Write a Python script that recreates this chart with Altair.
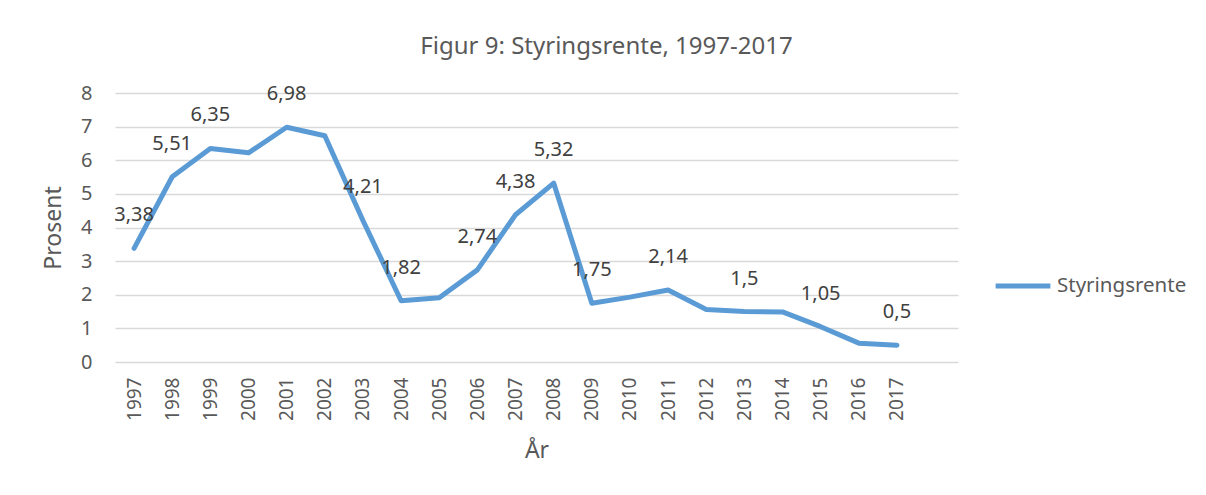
import altair as alt
import pandas as pd

years = list(range(1997, 2018))
rates = [3.38, 5.51, 6.35, 6.22, 6.98, 6.73, 4.21, 1.82, 1.91, 2.74, 4.38, 5.32,
         1.75, 1.93, 2.14, 1.56, 1.50, 1.49, 1.05, 0.56, 0.50]
labelled_years = [1997, 1998, 1999, 2001, 2003, 2004, 2006, 2007, 2008, 2009,
                  2011, 2013, 2015, 2017]
y_ticks = [0, 1, 2, 3, 4, 5, 6, 7, 8]
series_name = "Styringsrente"

df = pd.DataFrame({
    "År": years,
    "Prosent": rates,
    "serie": [series_name] * len(years),
    "label": [f"{v:g}".replace(".", ",") if y in labelled_years else "" for y, v in zip(years, rates)],
})

FONT = "Noto Sans"
BLUE = "#5b9bd5"

x = alt.X("År:Q",
          scale=alt.Scale(domain=[1996.5, 2018.6], nice=False, zero=False),
          axis=alt.Axis(values=years, format="d", labelAngle=-90, labelAlign="right",
                        labelBaseline="middle", grid=False, domain=False, ticks=False,
                        labelPadding=15, labelFontSize=19, labelColor="#595959",
                        title="År", titleFontSize=23, titleFontWeight="normal",
                        titleColor="#595959", titlePadding=19, labelFont=FONT, titleFont=FONT,
                        labelOverlap=False))
y = alt.Y("Prosent:Q",
          scale=alt.Scale(domain=[0, 8], nice=False),
          axis=alt.Axis(values=y_ticks, grid=True, gridColor="#d9d9d9", gridWidth=1.3,
                        domain=False, ticks=False, labelPadding=23, labelFontSize=20,
                        labelColor="#595959", title="Prosent", titleFontSize=23,
                        titleFontWeight="normal", titleColor="#595959", titlePadding=15,
                        labelFont=FONT, titleFont=FONT, labelOverlap=False))

line = alt.Chart(df).mark_line(strokeWidth=5, strokeCap="round", strokeJoin="round").encode(
    x=x, y=y,
    color=alt.Color("serie:N", scale=alt.Scale(range=[BLUE]),
                    legend=alt.Legend(title=None, orient="none", legendX=878, legendY=163,
                                      symbolType="stroke", symbolSize=3000, symbolStrokeWidth=5,
                                      labelFontSize=20.5, labelColor="#595959", labelFont=FONT,
                                      labelOffset=4)),
)

labels = alt.Chart(df).mark_text(fontSize=20, color="#404040", font=FONT, dy=-33,
                                 baseline="middle", align="center").encode(
    x=x, y=y, text="label:N")

chart = alt.layer(line, labels).properties(
    width=843, height=269,
    title=alt.TitleParams("Figur 9: Styringsrente, 1997-2017", fontSize=24, font=FONT,
                          fontWeight="normal", color="#595959", anchor="middle", dx=70,
                          offset=24),
    autosize=alt.AutoSizeParams(type="none"),
    padding={"left": 107, "top": 85, "right": 240, "bottom": 125},
).configure(background="white", view={"stroke": None})

chart.save("out.html", embed_options={"renderer": "svg", "actions": False})
